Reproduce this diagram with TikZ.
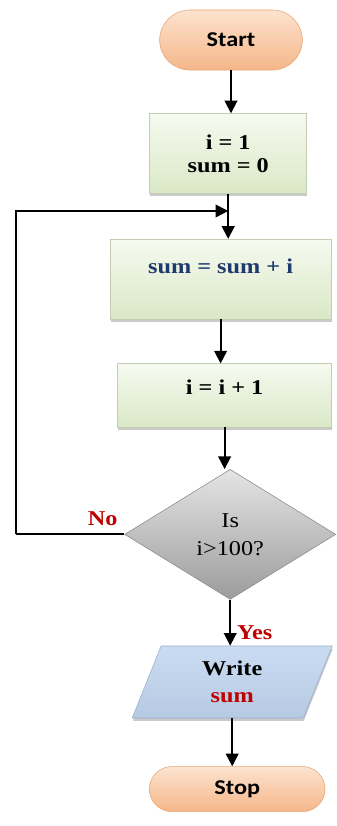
\documentclass[tikz,border=0pt]{standalone}
\usepackage{fontspec}
\setmainfont[FakeStretch=1.15]{Liberation Serif}
\newfontfamily\termfont[FakeStretch=1.15]{Carlito}
\usepackage{xcolor}
\usetikzlibrary{shapes.geometric,shapes.misc,arrows.meta,positioning,calc,shadows}

\definecolor{termtop}{HTML}{FCE3CF}
\definecolor{termbot}{HTML}{F5B689}
\definecolor{termedge}{HTML}{E9A473}
\definecolor{boxtop}{HTML}{F6FAF0}
\definecolor{boxbot}{HTML}{DAE8C6}
\definecolor{boxedge}{HTML}{C3CDB3}
\definecolor{dectop}{HTML}{E4E4E4}
\definecolor{decbot}{HTML}{9C9C9C}
\definecolor{decedge}{HTML}{8A8A8A}
\definecolor{iotop}{HTML}{CADCF2}
\definecolor{iobot}{HTML}{B5CAE3}
\definecolor{ioedge}{HTML}{9AB0CC}
\definecolor{navy}{HTML}{1F3A6E}
\definecolor{ansred}{HTML}{C00000}

\begin{document}
\begin{tikzpicture}[x=0.025cm, y=-0.025cm,
    terminal/.style={rounded rectangle, draw=termedge, 
        top color=termtop, bottom color=termbot, 
        font=\termfont\fontsize{15}{16}\selectfont\bfseries},
    process/.style={rectangle, draw=boxedge, 
        top color=boxtop, bottom color=boxbot, 
        drop shadow={shadow xshift=0.4pt, shadow yshift=-2pt, 
            fill=gray!70, opacity=0.6},
        font=\fontsize{15}{16}\selectfont\bfseries, align=center},
    decision/.style={diamond, draw=decedge, inner sep=0pt, 
        top color=dectop, bottom color=decbot, 
        font=\fontsize{15}{20}\selectfont, align=center},
    io/.style={trapezium, trapezium stretches=true, 
        trapezium left angle=74.5, trapezium right angle=105.5, 
        draw=ioedge, top color=iotop, bottom color=iobot, 
        drop shadow={shadow xshift=0.4pt, shadow yshift=-2pt, 
            fill=gray!70, opacity=0.6},
        font=\fontsize{15}{19}\selectfont\bfseries, align=center},
    arr/.style={-{Triangle[length=9pt, width=9pt]}, line width=1.3pt},
    answer/.style={font=\fontsize{15}{15}\selectfont\bfseries, 
        text=ansred},
]
\useasboundingbox (0,0) rectangle (336,826);

% ── Start / init ──
\node[terminal, minimum width=3.8cm, minimum height=1.5cm] 
    (start) at (231,40) {Start};
\node[process, below=1.075cm of start, xshift=-0.07cm, 
    minimum width=3.925cm, minimum height=2cm] (init) 
    {i = 1\\sum = 0};

% ── Loop body ──
\node[process, below=1.125cm of init, xshift=-0.19cm, 
    minimum width=5.525cm, minimum height=2cm, 
    text depth=18pt, text=navy] (calc) 
    {sum = sum + i};
\node[process, below=1.1cm of calc, xshift=0.1cm, 
    minimum width=5.35cm, minimum height=1.575cm, 
    text depth=12pt] (incr) 
    {i = i + 1};
\node[decision, below=1.05cm of incr, xshift=0.14cm, 
    minimum width=5.275cm, minimum height=3.25cm] (check) 
    {Is\\i>100?};

% ── Output / stop ──
\node[io, below=1.15cm of check, xshift=0.05cm, 
    minimum width=5.025cm, minimum height=1.8cm] (write) 
    {Write\\\textcolor{ansred}{sum}};
\node[terminal, below=1.2cm of write, xshift=0.125cm, 
    minimum width=4.625cm, minimum height=1.125cm] (stop) 
    {Stop};

% ── Arrows ──
\draw[arr] (start.south) -- (start.south |- init.north);
\draw[arr] (init.south) -- (init.south |- calc.north);
\draw[arr] (calc.south) -- (calc.south |- incr.north);
\draw[arr] (incr.south) -- (incr.south |- check.north);
\draw[arr] (check.south) -- (check.south |- write.north) 
    node[pos=0.72, right=1pt, answer] {Yes};
\draw[arr] (write.south) -- (write.south |- stop.north);

% ── Loop back ──
\coordinate (join) at ($(init.south)!0.38!(init.south |- calc.north)$);
\draw[line width=1.3pt] (check.west) -- ++(-108,0) 
    node[pos=0.2, above=2pt, answer] {No};
\draw[arr] (check.west) ++(-108,0) |- (join);

\end{tikzpicture}
\end{document}
